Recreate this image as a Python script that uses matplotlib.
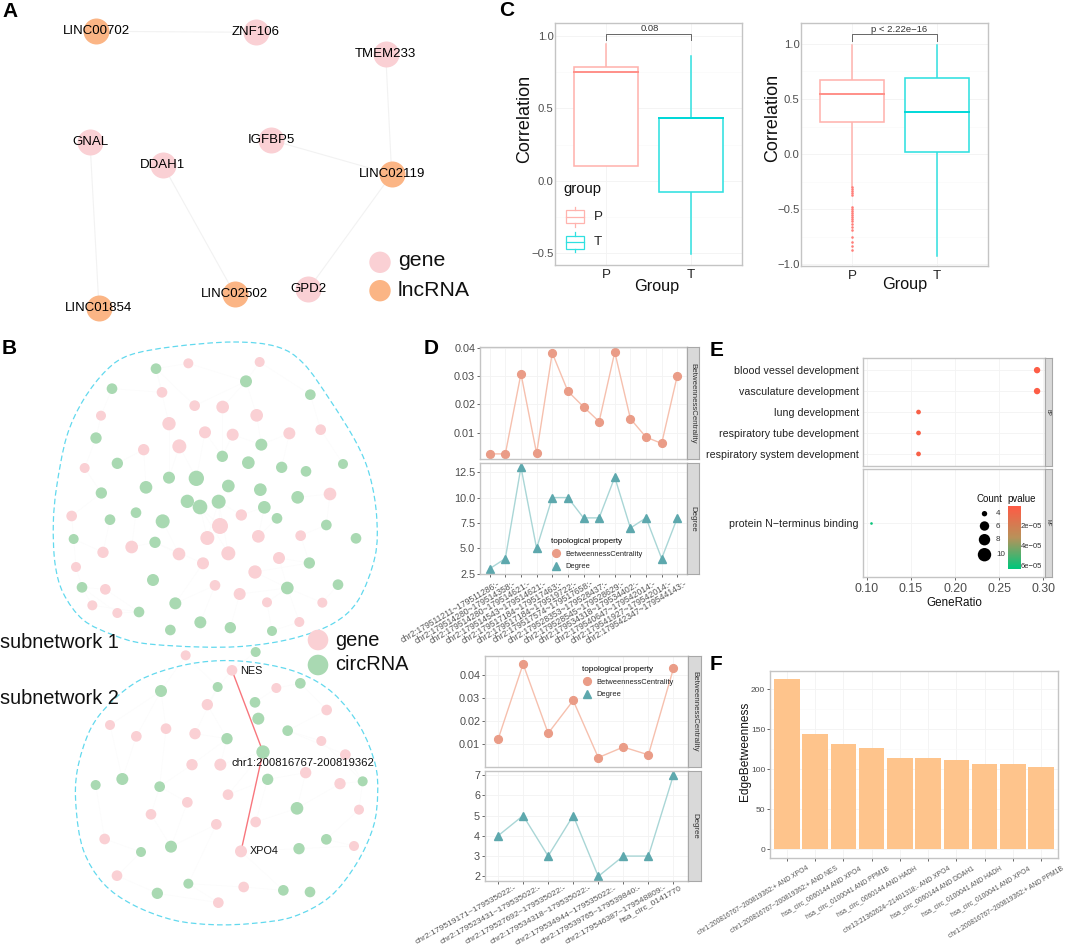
import numpy as np
import matplotlib
matplotlib.use("Agg")
import matplotlib.pyplot as plt
from matplotlib.path import Path
from matplotlib.patches import PathPatch, Rectangle
from matplotlib.lines import Line2D
from matplotlib.colors import LinearSegmentedColormap
from matplotlib.transforms import ScaledTranslation

plt.rcParams['font.family'] = ['Liberation Sans', 'DejaVu Sans']

W, H = 1065, 948

# ---------- panel A network ----------
a_genes = ['ZNF106', 'TMEM233', 'GNAL', 'IGFBP5', 'DDAH1', 'GPD2']
a_gene_x = [256, 385.7, 90, 271, 162.7, 308.3]
a_gene_y = [32.3, 53.7, 141.7, 140, 164.7, 289.3]
a_lnc = ['LINC00702', 'LINC02119', 'LINC02502', 'LINC01854']
a_lnc_x = [96.3, 391.7, 234.7, 99]
a_lnc_y = [31.3, 174.3, 294, 308]
a_edges = [('LINC00702', 'ZNF106'), ('TMEM233', 'LINC02119'), ('IGFBP5', 'LINC02119'),
           ('GPD2', 'LINC02119'), ('DDAH1', 'LINC02502'), ('GNAL', 'LINC01854')]

# ---------- panel B networks (x, y, radius, read at 3x) ----------
b1_gene = [(565,100,15),(779,96,15),(486,187,16),(584,227,16),(668,231,19),(770,256,19),(303,257,15),
           (507,281,20),(615,307,18),(698,314,18),(868,310,18),(962,299,16),(538,349,21),(431,359,17),
           (254,414,15),(990,492,19),(724,555,17),(215,558,16),(660,588,24),(622,624,21),(775,619,19),
           (902,617,16),(395,651,19),(309,667,17),(537,672,19),(685,670,21),(837,684,18),(609,700,18),
           (228,711,15),(765,726,20),(645,766,16),(316,778,16),(719,792,18),(801,817,15),(967,818,15),
           (277,826,15),(352,849,15),(898,876,15)]
b1_circ = [(468,116,16),(336,176,16),(738,154,18),(931,194,16),(288,324,17),(784,344,18),(667,379,17),
           (352,400,17),(745,398,19),(845,412,17),(918,424,16),(1029,402,15),(507,443,18),(589,445,23),
           (438,472,19),(685,468,19),(781,479,19),(304,489,17),(893,502,19),(562,514,20),(656,515,21),
           (600,531,22),(793,532,19),(408,548,16),(831,565,16),(330,569,16),(488,574,21),(979,585,16),
           (221,627,15),(1068,625,16),(465,637,17),(928,699,17),(459,750,18),(862,774,19),(246,772,16),
           (1014,764,16),(526,820,18),(417,846,16),(601,877,18),(691,893,17),(511,900,16),(816,903,15)]
b1_hull = [(700,36),(830,50),(910,100),(990,210),(1070,340),(1110,440),(1130,560),(1125,680),(1075,810),
           (1000,880),(880,925),(740,948),(600,951),(430,940),(340,915),(250,870),(190,790),(165,700),
           (160,580),(170,470),(200,320),(250,210),(320,120),(390,75),(520,50)]
b2_gene = [(557,76,15),(696,121,16),(829,174,15),(622,224,17),(980,240,16),(330,285,15),(498,296,16),
           (409,319,16),(585,311,17),(964,333,15),(1036,374,16),(576,404,17),(661,404,18),(917,428,17),
           (1020,461,17),(684,494,16),(562,517,16),(1077,539,15),(453,553,16),(767,576,16),(649,583,16),
           (314,627,16),(1062,648,15),(723,664,18),(351,737,16),(731,771,16),(655,818,16)]
b2_circ = [(767,66,15),(901,160,16),(653,171,15),(483,183,18),(765,217,16),(775,266,18),(863,302,16),
           (681,326,17),(789,366,20),(803,448,17),(367,447,18),(287,465,15),(479,470,16),(1088,454,15),
           (891,535,19),(979,628,16),(897,656,17),(513,650,18),(423,666,15),(565,761,15),(472,790,17),
           (850,781,16),(930,786,16)]
b2_hull = [(660,92),(780,100),(900,130),(1000,190),(1080,290),(1125,400),(1133,490),(1120,590),(1070,700),
           (990,800),(880,860),(760,880),(640,884),(520,870),(400,825),(310,760),(250,660),(228,530),
           (232,420),(270,300),(330,220),(420,150),(540,108)]
b2_path = [(696,121),(789,366),(723,664)]

# ---------- panel C ----------
groups = ['P', 'T']
c1_q1 = [0.101, -0.08]
c1_med = [0.749, 0.430]
c1_q3 = [0.782, 0.432]
c1_lo = [0.101, -0.503]
c1_hi = [0.943, 0.857]
c2_q1 = [0.291, 0.018]
c2_med = [0.542, 0.382]
c2_q3 = [0.673, 0.691]
c2_lo = [-0.294, -0.921]
c2_hi = [0.988, 0.994]
c2_outliers = [-0.30,-0.318,-0.336,-0.355,-0.373,-0.476,-0.50,-0.518,-0.536,-0.555,-0.573,-0.591,
               -0.609,-0.633,-0.658,-0.688,-0.755,-0.794,-0.833,-0.870]

# ---------- panel D ----------
d1_labels = ['chr2:179511211~179511286:-','chr2:179514280~179514358:-','chr2:179514280~179514621:-',
             'chr2:179514543~179514621:-','chr2:179517184~179517463:-','chr2:179517184~179519722:-',
             'chr2:179517574~179517658:-','chr2:179528353~179528437:-','chr2:179528545~179528629:-',
             'chr2:179534318~179534402:-','chr2:179540647~179542014:-','chr2:179541927~179542014:-',
             'chr2:179542347~179544143:-']
d1_between = [0.0025,0.0025,0.0308,0.0027,0.0381,0.0246,0.0191,0.0139,0.0384,0.0149,0.0084,0.0062,0.0301]
d1_degree = [3,4,13,5,10,10,8,8,12,7,8,4,8]
d2_labels = ['chr2:179519171~179535022:-','chr2:179523431~179535022:-','chr2:179527692~179535022:-',
             'chr2:179534318~179535022:-','chr2:179534944~179535022:-','chr2:179539765~179539840:-',
             'chr2:179546387~179548809:-','hsa_circ_0141770']
d2_between = [0.012,0.0449,0.0147,0.029,0.0041,0.0087,0.0053,0.043]
d2_degree = [4,5,3,5,2,3,3,7]

# ---------- panel E ----------
e_bp_terms = ['respiratory system development','respiratory tube development','lung development',
              'vasculature development','blood vessel development']
e_bp_ratio = [0.1585,0.1585,0.1585,0.293,0.293]
e_bp_count = [6,6,6,11,11]
e_bp_p = [3e-6,3e-6,3e-6,1e-6,1e-6]
e_mf_terms = ['protein N\u2212terminus binding']
e_mf_ratio = [0.1045]
e_mf_count = [4]
e_mf_p = [6.2e-5]
e_count_levels = [4,6,8,10]

# ---------- panel F ----------
f_labels = ['chr1:200816767~200819362:+ AND XPO4','chr1:200816767~200819362:+ AND NES',
            'hsa_circ_0060144 AND XPO4','hsa_circ_0100041 AND PPM1B','hsa_circ_0060144 AND HADH',
            'chr13:21362624~21401318:- AND XPO4','hsa_circ_0060144 AND DDAH1','hsa_circ_0100041 AND HADH',
            'hsa_circ_0100041 AND XPO4','chr1:200816767~200819362:+ AND PPM1B']
f_values = [212.5,143.7,131,126,114.5,114.5,111.5,107,106,102.5]

# ---------- colours ----------
PINK, GREEN, ORANGE = '#fad0d4', '#a9d9b2', '#fbb585'
BORDER, GRID, TICK = '#c4c4c4', '#f3f3f3', '#4d4d4d'
BOXP, BOXT = '#ffb3ae', '#30e0e0'

fig = plt.figure(figsize=(W/100, H/100), dpi=100, facecolor='white')


def px_axes(x0, y0, x1, y1):
    return fig.add_axes([x0/W, 1-y1/H, (x1-x0)/W, (y1-y0)/H])


def style(ax, labelsize=7.8, grid=True):
    for s in ax.spines.values():
        s.set_color(BORDER)
        s.set_linewidth(1.0)
    ax.tick_params(labelsize=labelsize, colors=TICK, length=2, width=0.6, pad=1.5)
    if grid:
        ax.grid(True, color=GRID, lw=0.6)
        ax.set_axisbelow(True)


def strip(x0, y0, x1, y1, text, size=5.7):
    s = px_axes(x0, y0, x1, y1)
    s.set_facecolor('#d9d9d9')
    s.set_xticks([]); s.set_yticks([])
    for sp in s.spines.values():
        sp.set_color('#a8a8a8'); sp.set_linewidth(0.8)
    s.text(0.5, 0.5, text, rotation=-90, ha='center', va='center', fontsize=size,
           color='#333333', transform=s.transAxes)


def shift_labels(ax, offsets):
    """Move rotated tick labels right by a number of pixels, as in the reference."""
    for lab, dx in zip(ax.get_xticklabels(), offsets):
        lab.set_transform(lab.get_transform() + ScaledTranslation(dx/100, 0, fig.dpi_scale_trans))


def boxes(ax, q1, med, q3, lo, hi):
    cols = [BOXP, BOXT]
    meds = ['#ff8f88', '#00d8d8']
    for i in range(2):
        x = i + 1
        ax.add_patch(Rectangle((x-0.375, q1[i]), 0.75, q3[i]-q1[i], fc='white', ec=cols[i], lw=1.15, zorder=3))
        ax.plot([x-0.375, x+0.375], [med[i], med[i]], color=meds[i], lw=1.4, zorder=4)
        ax.plot([x, x], [q3[i], hi[i]], color=cols[i], lw=1.1, zorder=2)
        ax.plot([x, x], [lo[i], q1[i]], color=cols[i], lw=1.1, zorder=2)
    ax.set_xlim(0.4, 2.6)
    ax.set_xticks([1, 2], groups)
    ax.tick_params(axis='x', labelsize=9.6, labelcolor='#222222', length=0, pad=3)
    ax.tick_params(axis='y', labelsize=8.1, length=0, pad=1)


# panel C
ax = px_axes(555, 23, 742, 265)
style(ax)
ax.set_ylim(-0.58, 1.087)
ax.set_yticks([-0.5, 0, 0.5, 1.0], ['\u22120.5', '0.0', '0.5', '1.0'])
ax.set_yticks([-0.25, 0.25, 0.75], minor=True)
ax.tick_params(axis='y', which='minor', length=0)
ax.grid(True, which='minor', color='#f9f9f9', lw=0.4)
boxes(ax, c1_q1, c1_med, c1_q3, c1_lo, c1_hi)
ax.plot([1, 1, 2, 2], [0.972, 1.014, 1.014, 0.972], color='#666666', lw=0.7)
ax.text(1.51, 1.02, '0.08', ha='center', va='bottom', fontsize=6.8, color='#333333')

ax = px_axes(801, 23, 988, 266)
style(ax)
ax.set_ylim(-1.015, 1.19)
ax.set_yticks([-1, -0.5, 0, 0.5, 1.0], ['\u22121.0', '\u22120.5', '0.0', '0.5', '1.0'])
ax.set_yticks([-0.75, -0.25, 0.25, 0.75], minor=True)
ax.tick_params(axis='y', which='minor', length=0)
ax.grid(True, which='minor', color='#f9f9f9', lw=0.4)
boxes(ax, c2_q1, c2_med, c2_q3, c2_lo, c2_hi)
ax.scatter([1]*len(c2_outliers), c2_outliers, s=3.5, color='#ff7f7a', lw=0, zorder=3)
ax.plot([1, 1, 2, 2], [1.03, 1.087, 1.087, 1.03], color='#666666', lw=0.7)
ax.text(1.55, 1.093, 'p < 2.22e\u221216', ha='center', va='bottom', fontsize=6.8, color='#333333')

# panel D


def dplot(axb, axd, between, degree, labels, bylim, dylim, byt, dyt, dyl, xlim, size, offsets, rot, pad):
    x = np.arange(1, len(labels)+1)
    l1, = axb.plot(x, between, color='#f6c0ae', lw=1.0, marker='o', ms=5.6, mfc='#ea9c87', mec='#ea9c87')
    l2, = axd.plot(x, degree, color='#a9d6d6', lw=1.0, marker='^', ms=6.4, mfc='#5da8ad', mec='#5da8ad')
    for a in (axb, axd):
        style(a)
        a.set_xlim(*xlim)
        a.set_xticks(x)
        a.grid(True, which='minor', color='#f9f9f9', lw=0.4)
    axb.set_ylim(*bylim); axd.set_ylim(*dylim)
    axb.set_yticks(byt); axd.set_yticks(dyt, dyl)
    axb.tick_params(axis='x', length=0, labelbottom=False)
    axd.set_xticks(x, labels, rotation=rot, ha='right', rotation_mode='anchor', fontsize=size, color='#555555')
    axd.tick_params(axis='x', pad=pad)
    shift_labels(axd, offsets)
    return l1, l2


a1 = px_axes(480, 347, 687, 459)
a2 = px_axes(480, 463, 687, 574)
h = dplot(a1, a2, d1_between, d1_degree, d1_labels, (0.0007, 0.0402), (2.48, 13.4),
          [0.01, 0.02, 0.03, 0.04], [2.5, 5, 7.5, 10, 12.5], ['2.5', '5.0', '7.5', '10.0', '12.5'],
          (0.38, 13.62), 6.2, [7]*len(d1_labels), 30.5, 1.5)
strip(687, 347, 699, 459, 'BetweennessCentrality')
strip(687, 463, 699, 574, 'Degree')


def dlegend(ax, x, y):
    hs = [Line2D([], [], ls='', marker='o', ms=5.6, color='#ea9c87'),
          Line2D([], [], ls='', marker='^', ms=6.4, color='#5da8ad')]
    leg = ax.legend(hs, ['BetweennessCentrality', 'Degree'], title='topological property',
                    loc='upper left', bbox_to_anchor=(x/W, 1-y/H), bbox_transform=fig.transFigure,
                    frameon=False, fontsize=5.4, title_fontsize=5.9, borderpad=0, labelspacing=0.75,
                    handletextpad=0.5, handlelength=1.4, alignment='left')
    for t in leg.get_texts():
        t.set_color('#222222')
    return leg


dlegend(a2, 547, 534)

a3 = px_axes(485, 656, 688, 767)
a4 = px_axes(485, 771, 688, 881)
h = dplot(a3, a4, d2_between, d2_degree, d2_labels, (0.0, 0.0484), (1.77, 7.2),
          [0.01, 0.02, 0.03, 0.04], [2, 3, 4, 5, 6, 7], ['2', '3', '4', '5', '6', '7'],
          (0.48, 8.58), 6.1, [len(s)-10 for s in d2_labels], 29, 0.5)
strip(688, 656, 701, 767, 'BetweennessCentrality')
strip(688, 771, 701, 881, 'Degree')
dlegend(a3, 578, 662)

# panel E
pcmap = LinearSegmentedColormap.from_list('p', ['#ff5b45', '#b9925a', '#00c77c'])
pmax = 6.4e-5


def cnt_size(c):
    return np.interp(c, [4, 6, 11], [1.9, 3.4, 4.6])**2


e1 = px_axes(863, 358, 1045, 466)
e2 = px_axes(863, 469, 1045, 577)
for a in (e1, e2):
    style(a)
    a.set_xlim(0.0955, 0.302)
    a.set_xticks([0.10, 0.15, 0.20, 0.25, 0.30])
    a.tick_params(axis='y', labelsize=7.7, labelcolor='#222222', length=0, pad=3)
e1.scatter(e_bp_ratio, range(len(e_bp_terms)), s=cnt_size(e_bp_count), c=e_bp_p, cmap=pcmap, vmin=0, vmax=pmax, lw=0, zorder=3)
e2.scatter(e_mf_ratio, range(len(e_mf_terms)), s=cnt_size(e_mf_count), c=e_mf_p, cmap=pcmap, vmin=0, vmax=pmax, lw=0, zorder=3)
e1.set_yticks(range(5), e_bp_terms); e1.set_ylim(-0.576, 4.58)
e2.set_yticks([0], e_mf_terms); e2.set_ylim(-0.5, 0.5)
e1.tick_params(axis='x', length=0, labelbottom=False)
e2.tick_params(axis='x', labelsize=8.9, pad=2)
e2.set_xlabel('GeneRatio', fontsize=8.4, labelpad=2, color='#111111')
strip(1045, 358, 1052, 466, 'BP', 3.8)
strip(1045, 469, 1052, 577, 'MF', 3.8)

cb = px_axes(1007.5, 506, 1020, 569)
cb.imshow(np.linspace(0, 1, 100)[:, None], cmap=pcmap, aspect='auto')
cb.axis('off')

# panel F
f = px_axes(770, 671, 1058, 858)
style(f, 6.0)
fx = np.arange(1, len(f_values)+1)
f.bar(fx, f_values, width=0.9, color='#fec48c', zorder=3)
f.set_xlim(0.4, 10.6)
f.set_ylim(-11.25, 223)
f.set_yticks([0, 50, 100, 150, 200])
f.set_yticks([25, 75, 125, 175], minor=True)
f.tick_params(axis='y', which='minor', length=0)
f.grid(True, which='minor', color='#f9f9f9', lw=0.4)
f.set_xticks(fx, f_labels, rotation=31, ha='right', rotation_mode='anchor', fontsize=4.9, color='#555555')
f.tick_params(axis='x', pad=3)
shift_labels(f, [min(0.6*len(s), 20) for s in f_labels])

# overlay in pixel coordinates
ov = fig.add_axes([0, 0, 1, 1], zorder=10)
ov.set_xlim(0, W); ov.set_ylim(H, 0)
ov.axis('off')
ov.patch.set_alpha(0)


def area(r):
    return (2*np.asarray(r, float)*0.72)**2


def closed_path(pts):
    p = np.asarray(pts, float)
    n = len(p)
    verts = [p[0]]
    codes = [Path.MOVETO]
    for i in range(n):
        p0, p1, p2, p3 = p[i-1], p[i], p[(i+1) % n], p[(i+2) % n]
        verts += [p1+(p2-p0)/6, p2-(p3-p1)/6, p2]
        codes += [Path.CURVE4]*3
    return Path(np.array(verts), codes)


def nodes(lst, ox, oy, color):
    arr = np.asarray(lst, float)
    ov.scatter(ox+arr[:, 0]/3, oy+arr[:, 1]/3, s=area(arr[:, 2]/3), color=color, lw=0, zorder=3)


def faint_edges(genes, circs, oy):
    """Barely visible links: every gene to its two closest circRNAs."""
    g = np.asarray(genes, float)[:, :2]
    c = np.asarray(circs, float)[:, :2]
    for p in g:
        for j in np.argsort(((c-p)**2).sum(axis=1))[:2]:
            ov.plot([p[0]/3, c[j, 0]/3], [oy+p[1]/3, oy+c[j, 1]/3], color='#fcfcfc', lw=0.5, zorder=1)


# A
posA = dict(zip(a_genes+a_lnc, zip(a_gene_x+a_lnc_x, a_gene_y+a_lnc_y)))
for u, v in a_edges:
    ov.plot([posA[u][0], posA[v][0]], [posA[u][1], posA[v][1]], color='#f2f2f2', lw=0.8, zorder=1)
ov.scatter(a_gene_x, a_gene_y, s=area(13), color=PINK, lw=0, zorder=3)
ov.scatter(a_lnc_x, a_lnc_y, s=area(13), color=ORANGE, lw=0, zorder=3)
for n, (x, y) in posA.items():
    ov.text(x, y, n, ha='center', va='center', fontsize=9.5, color='black', zorder=4)
ov.scatter([380, 380], [262.3, 290.7], s=area(10.7), color=[PINK, ORANGE], lw=0, zorder=3)
ov.text(398, 261, 'gene', fontsize=15.3, va='center', color='#111111')
ov.text(398, 290, 'lncRNA', fontsize=15.3, va='center', color='#111111')

# B
faint_edges(b1_gene, b1_circ, 330)
faint_edges(b2_gene, b2_circ, 630)
for pts, oy in ((b1_hull, 330), (b2_hull, 630)):
    arr = np.asarray(pts, float)
    path = closed_path(np.c_[arr[:, 0]/3, oy+arr[:, 1]/3])
    ov.add_patch(PathPatch(path, fc='none', ec='#62d9ee', lw=0.9, ls=(0, (4.5, 2.5)), zorder=2))
nodes(b1_gene, 0, 330, PINK)
nodes(b1_circ, 0, 330, GREEN)
nodes(b2_gene, 0, 630, PINK)
nodes(b2_circ, 0, 630, GREEN)
parr = np.asarray(b2_path, float)
ov.plot(parr[:, 0]/3, 630+parr[:, 1]/3, color='#f8767d', lw=1.0, zorder=2.5)
ov.text(240, 670.5, 'NES', fontsize=7.8, va='center', color='#111111', zorder=5)
ov.text(231.5, 762.5, 'chr1:200816767-200819362', fontsize=8.1, va='center', color='#111111', zorder=5)
ov.text(249.5, 850.5, 'XPO4', fontsize=7.8, va='center', color='#111111', zorder=5)
ov.scatter([318, 318], [640, 665], s=area(10.3), color=[PINK, GREEN], lw=0, zorder=3)
ov.text(335, 640, 'gene', fontsize=14.4, va='center', color='#111111')
ov.text(335, 665, 'circRNA', fontsize=14.4, va='center', color='#111111')
ov.text(0, 642, 'subnetwork 1', fontsize=14.4, va='center', color='#111111')
ov.text(0, 699, 'subnetwork 2', fontsize=14.4, va='center', color='#111111')

# C labels and legend
ov.text(525, 119, 'Correlation', rotation=90, fontsize=13, ha='center', va='center', color='#111111')
ov.text(773, 118, 'Correlation', rotation=90, fontsize=13, ha='center', va='center', color='#111111')
ov.text(657, 286, 'Group', fontsize=11.7, ha='center', va='center', color='#111111')
ov.text(905, 285, 'Group', fontsize=11.7, ha='center', va='center', color='#111111')
ov.text(563, 189, 'group', fontsize=10.7, va='center', color='#111111')
for yc, col, lab, medc in ((216.5, BOXP, 'P', BOXP), (242, BOXT, 'T', BOXT)):
    ov.add_patch(Rectangle((565.5, yc-6.5), 18, 13, fc='white', ec=col, lw=0.9, zorder=3))
    ov.plot([565.5, 583.5], [yc, yc], color=medc, lw=0.9, zorder=4)
    ov.plot([574.5, 574.5], [yc-10, yc-6.5], color=col, lw=0.9, zorder=3)
    ov.plot([574.5, 574.5], [yc+6.5, yc+10], color=col, lw=0.9, zorder=3)
    ov.text(594, yc, lab, fontsize=9.6, va='center', color='#222222')

# E legend
ov.text(976.5, 499, 'Count', fontsize=7, ha='left', va='center', color='#111111')
ov.text(1007.5, 498.5, 'pvalue', fontsize=7, ha='left', va='center', color='#111111')
ov.scatter([984.5]*4, [513.7, 526, 539.7, 554.7], s=area([2.7, 4.7, 5.7, 6.7]), color='black', lw=0, zorder=6)
for y, c in zip([513.7, 526, 539.7, 554], e_count_levels):
    ov.text(996, y, str(c), fontsize=5.8, va='center', color='#333333')
for y, t in zip([526.5, 546.5, 566.5], ['2e\u221205', '4e\u221205', '6e\u221205']):
    ov.text(1021, y, t, fontsize=5.5, va='center', color='#333333')

# F y label
ov.text(745, 751, 'EdgeBetweenness', rotation=90, fontsize=8.6, ha='center', va='center', color='#111111')

# panel letters
for x, y, t in [(2, 11, 'A'), (2, 349, 'B'), (499, 10, 'C'), (424, 349, 'D'), (710, 350, 'E'), (710, 665, 'F')]:
    ov.text(x, y, t, fontsize=15, fontweight='bold', va='center', color='black')

fig.savefig('out.png', dpi=100)
